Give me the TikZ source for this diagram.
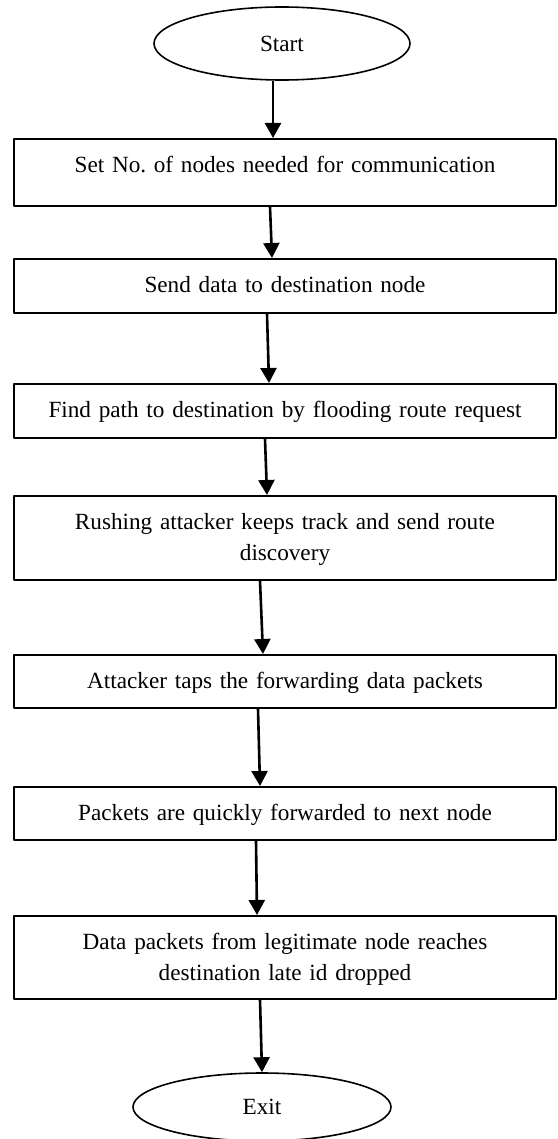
\documentclass[tikz,border=0pt]{standalone}
\usepackage{fontspec}
\setmainfont{Liberation Serif}
\usetikzlibrary{shapes.geometric,arrows.meta}
\begin{document}
\begin{tikzpicture}[x=0.5pt,y=-0.5pt,>={Triangle[length=7.5pt,width=8pt]},line join=round,
	font=\fontsize{11.6}{15.5}\selectfont\frenchspacing,
	stepbox/.style={draw,line width=0.9pt,anchor=north,inner xsep=0pt,inner ysep=0pt,text width=271pt,align=center,text height=17pt},
	term/.style={draw,ellipse,line width=0.8pt,inner sep=0pt,minimum width=128pt,minimum height=36.5pt},
	flow/.style={->,line width=1.3pt}]
	\clip (0,0) rectangle (557,1139);
	\def\xb{285} % centre of the boxes
	\node[term] (start) at (282,43.5) {Start};
	\node[stepbox,text depth=16.5pt] (setn) at (\xb,138) {Set No. of nodes needed for communication};
	\node[stepbox,text depth=10pt] (send) at (\xb,258) {Send data to destination node};
	\node[stepbox,text depth=10pt] (find) at (\xb,383) {Find path to destination by flooding route request};
	\node[stepbox,text depth=25pt] (rush) at (\xb,495) {Rushing attacker keeps track and send route\\ discovery};
	\node[stepbox,text depth=9.5pt] (tap) at (\xb,654) {Attacker taps the forwarding data packets};
	\node[stepbox,text depth=9.5pt] (fwd) at (\xb,786) {Packets are quickly forwarded to next node};
	\node[stepbox,text depth=24.5pt] (late) at (\xb,915) {Data packets from legitimate node reaches\\ destination late id dropped};
	\node[term,minimum width=129pt,minimum height=34pt] (exit) at (262,1107) {Exit};
	% arrows, a little off the middle as in the drawing
	\foreach \p/\q/\s/\t in {start/setn/-4.5/-6, setn/send/-7.5/-6.5, send/find/-9/-8,
		find/rush/-10/-9, rush/tap/-12.5/-11, tap/fwd/-13.5/-12.5, fwd/late/-14.5/-14, late/exit/-12.5/0}
		\draw[flow] ([xshift=\s pt]\p.south) -- ([xshift=\t pt]\q.north);
\end{tikzpicture}
\end{document}
